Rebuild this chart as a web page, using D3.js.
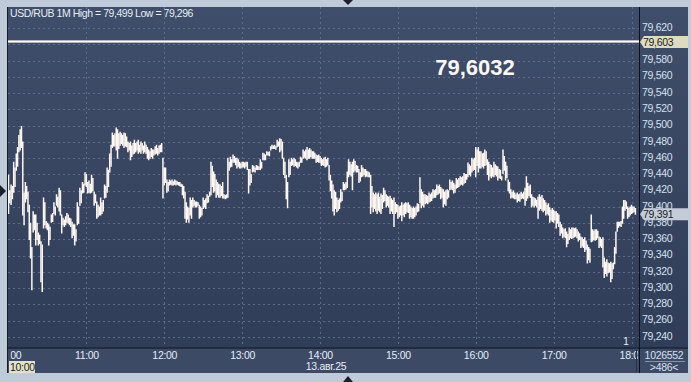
<!DOCTYPE html>
<html>
<head>
<meta charset="utf-8">
<script src="https://cdn.jsdelivr.net/npm/d3@7"></script>
<style>
  body { margin: 0; background: #bfcbd9; }
  svg { display: block; font-family: "Liberation Sans", Arial, sans-serif; }
</style>
</head>
<body>
<div id="chart"></div>
<script>
// USD/RUB, 1 minute bars, 13 Aug 2025 (values = thousandths above 79)
var barHigh = [439,420,427,425,455,448,465,473,488,495,499,480,417,430,425,418,402,380,350,394,
  390,390,380,368,365,357,353,411,405,382,380,378,375,390,392,405,400,415,412,423,
  420,390,386,384,388,392,390,386,385,381,378,378,372,405,400,423,420,430,428,442,
  440,430,432,428,439,435,418,415,406,402,400,411,405,408,427,425,448,445,465,476,
  491,488,490,497,495,490,492,490,488,491,490,486,480,478,480,475,478,482,478,480,
  482,476,480,478,475,480,476,473,470,468,472,470,470,474,476,472,475,476,478,460,
  448,448,433,430,433,432,433,431,433,432,431,430,430,428,427,425,418,405,400,398,
  411,408,411,408,406,406,405,402,400,398,411,408,410,415,413,418,455,450,443,440,
  433,430,428,427,425,430,415,414,415,460,455,461,458,464,462,460,460,458,455,453,
  455,455,454,455,455,446,446,440,451,450,448,451,450,449,458,455,466,465,464,468,
  467,468,474,476,475,476,474,482,480,484,483,480,460,455,439,430,458,455,460,458,
  460,458,455,454,455,461,460,470,468,470,473,470,472,470,468,468,466,464,463,464,
  462,460,458,460,461,458,460,451,439,432,427,420,418,411,408,410,421,418,430,428,
  430,443,458,455,452,455,458,456,451,450,446,442,451,448,446,446,444,443,442,439,
  425,417,415,417,415,417,412,416,414,423,420,415,413,412,413,410,408,411,405,403,
  402,400,401,405,402,404,405,404,405,402,400,398,400,398,400,404,403,436,421,418,
  415,415,414,413,417,415,417,421,420,421,427,425,427,424,422,421,418,420,421,420,
  433,430,432,429,427,435,433,435,437,436,437,441,440,440,454,452,450,460,458,460,
  473,470,473,468,468,465,466,470,468,458,455,452,451,448,455,452,450,449,446,445,
  437,470,462,455,450,433,430,421,418,420,417,415,417,415,416,418,416,418,423,437,
  429,425,427,415,412,411,410,408,412,415,412,414,410,408,405,402,404,399,396,398,
  396,394,394,392,390,381,378,374,372,373,369,366,374,372,374,374,373,374,372,369,
  367,363,362,360,362,358,353,350,348,390,372,370,372,372,370,363,362,360,362,337,
  332,335,331,330,332,330,331,350,369,381,381,381,382,400,408,408,406,400,398,400,
  402,400,400,398];
var barLow = [392,405,403,410,418,425,445,450,468,470,473,390,378,406,410,394,360,337,298,369,
  372,353,360,353,355,308,296,374,378,374,372,353,360,381,382,392,390,402,400,395,
  390,368,378,376,378,381,380,378,376,362,365,353,358,378,380,402,405,417,418,427,
  425,417,418,417,418,420,402,405,386,388,390,390,392,395,411,412,418,425,443,450,
  473,475,475,470,460,472,476,478,476,473,475,474,468,470,458,462,465,466,468,470,
  466,468,466,470,466,468,466,460,458,460,462,460,464,465,466,464,466,468,468,411,
  427,430,418,420,427,428,427,427,428,427,428,427,426,425,415,411,386,381,385,381,
  390,386,400,402,400,400,402,386,388,390,398,400,398,405,406,413,415,425,418,420,
  412,415,412,412,414,411,411,410,411,412,445,449,450,455,455,452,448,450,448,448,
  449,449,448,450,446,417,427,430,443,444,443,446,446,446,446,448,458,458,458,464,
  464,463,470,472,472,472,471,474,475,468,470,460,440,436,410,399,437,440,451,452,
  450,451,449,448,450,455,455,460,461,460,458,460,460,462,460,460,460,455,456,455,
  455,451,452,451,449,450,452,433,420,411,395,390,398,394,396,398,406,408,421,421,
  422,424,437,440,438,421,443,445,443,443,430,432,437,438,440,437,438,437,437,392,
  400,394,398,395,392,396,394,392,398,406,408,400,402,400,392,395,392,376,392,394,
  386,388,390,383,390,388,392,394,393,386,388,386,386,388,390,394,395,405,399,402,
  400,404,405,404,406,407,408,411,412,412,415,416,417,410,412,400,404,402,410,412,
  421,422,421,417,418,423,424,425,427,428,427,429,430,434,437,440,438,443,445,446,
  437,451,443,448,448,450,448,451,452,440,433,438,436,438,437,440,438,433,436,435,
  433,441,445,433,436,420,417,411,412,411,410,410,406,408,407,410,411,410,402,408,
  411,414,412,400,402,400,402,400,386,396,398,396,394,396,390,392,390,381,384,382,
  381,384,374,380,376,365,368,362,364,362,351,355,360,362,361,362,363,364,362,358,
  360,350,352,350,345,348,331,335,332,357,358,360,359,360,362,350,352,350,326,313,
  318,315,319,320,308,312,324,330,343,370,375,377,376,380,386,396,398,386,388,390,
  392,393,394,391];

var priceTicks = [79.24, 79.26, 79.28, 79.30, 79.32, 79.34, 79.36, 79.38, 79.40, 79.42,
  79.44, 79.46, 79.48, 79.50, 79.52, 79.54, 79.56, 79.58, 79.60, 79.62];
var hourTicks = [10, 11, 12, 13, 14, 15, 16, 17, 18];
var title = "USD/RUB 1M High = 79,499 Low = 79,296";
var refLevel = 79.603;      // horizontal level line
var refText = "79,6032";
var lastPrice = 79.391;
var dateLabel = "13.авг.25";
var startLabel = "10:00";
var volumeText = "1026552";
var countText = ">486<";

var width = 691, height = 382;
var plot = { left: 8, right: 639, top: 7, bottom: 347.5 };

var ru = d3.formatLocale({ decimal: ",", thousands: " ", grouping: [3], currency: ["", ""] });
var fmt3 = ru.format(".3f");

var svg = d3.select("#chart").append("svg")
    .attr("width", width)
    .attr("height", height);

var defs = svg.append("defs");
var grad = defs.append("linearGradient").attr("id", "bg").attr("x1", 0).attr("y1", 0).attr("x2", 0).attr("y2", 1);
grad.append("stop").attr("offset", "0%").attr("stop-color", "#3f4e6a");
grad.append("stop").attr("offset", "100%").attr("stop-color", "#2f3c58");

defs.append("clipPath").attr("id", "plotclip")
    .append("rect")
    .attr("x", plot.left).attr("y", plot.top)
    .attr("width", plot.right - plot.left).attr("height", plot.bottom - plot.top);
defs.append("clipPath").attr("id", "xclip")
    .append("rect")
    .attr("x", plot.left + 2.5).attr("y", plot.bottom)
    .attr("width", plot.right - plot.left - 3.5).attr("height", 30);

// panels
svg.append("rect")
    .attr("x", 7).attr("y", 7).attr("width", 681).attr("height", 366)
    .attr("fill", "url(#bg)");
svg.append("rect")
    .attr("x", 7).attr("y", plot.bottom).attr("width", 681).attr("height", 373 - plot.bottom)
    .attr("fill", "#3c4a66");

// scales
var xScale = d3.scaleTime()
    .domain([new Date(2025, 7, 13, 10, 0), new Date(2025, 7, 13, 18, 0)])
    .range([8.5, 631.5]);

var yScale = d3.scaleLinear()
    .domain([79.227, 79.646])
    .range([plot.bottom, plot.top]);

var bars = barHigh.map(function (h, i) {
    return { t: new Date(2025, 7, 13, 10, i), high: 79 + h / 1000, low: 79 + barLow[i] / 1000 };
});

// grid
var grid = svg.append("g").attr("clip-path", "url(#plotclip)");
grid.selectAll("line.h")
    .data(priceTicks)
    .enter()
    .append("line")
    .attr("class", "h")
    .attr("x1", plot.left).attr("x2", plot.right)
    .attr("y1", function (d) { return Math.round(yScale(d)) + 0.5; })
    .attr("y2", function (d) { return Math.round(yScale(d)) + 0.5; })
    .attr("stroke", "#5d6d89")
    .attr("stroke-dasharray", "2,3");
grid.selectAll("line.v")
    .data(hourTicks.slice(1))
    .enter()
    .append("line")
    .attr("class", "v")
    .attr("x1", function (d) { return Math.round(xScale(new Date(2025, 7, 13, d))) + 0.5; })
    .attr("x2", function (d) { return Math.round(xScale(new Date(2025, 7, 13, d))) + 0.5; })
    .attr("y1", plot.top).attr("y2", plot.bottom)
    .attr("stroke", "#5d6d89")
    .attr("stroke-dasharray", "2,3");

// level line
var lvl = Math.round(yScale(refLevel)) - 0.5;
svg.append("line")
    .attr("x1", plot.left).attr("x2", plot.right)
    .attr("y1", lvl).attr("y2", lvl)
    .attr("stroke", "#b8b8b8").attr("stroke-width", 3);
svg.append("line")
    .attr("x1", plot.left).attr("x2", plot.right)
    .attr("y1", lvl).attr("y2", lvl)
    .attr("stroke", "#ffffff").attr("stroke-width", 1.2);

// bars
svg.append("g")
    .attr("clip-path", "url(#plotclip)")
    .selectAll("line")
    .data(bars)
    .enter()
    .append("line")
    .attr("x1", function (d) { return xScale(d.t); })
    .attr("x2", function (d) { return xScale(d.t); })
    .attr("y1", function (d) { return yScale(d.high) - 0.5; })
    .attr("y2", function (d) { return yScale(d.low) + 0.5; })
    .attr("stroke", "#fff7f2")
    .attr("stroke-width", 1.5);

// title and big value
svg.append("text")
    .attr("x", 10).attr("y", 17)
    .attr("font-size", 10.5)
    .attr("letter-spacing", -0.45)
    .attr("fill", "#e6edf5")
    .text(title);
svg.append("text")
    .attr("x", 475).attr("y", 75)
    .attr("text-anchor", "middle")
    .attr("font-size", 22)
    .attr("font-weight", "bold")
    .attr("fill", "#fff8f2")
    .text(refText);
svg.append("text")
    .attr("x", 626).attr("y", 345)
    .attr("text-anchor", "middle")
    .attr("font-size", 10)
    .attr("fill", "#e6edf5")
    .text("1");

// right axis
var yAxis = svg.append("g")
    .attr("transform", "translate(" + plot.right + ",0)")
    .call(d3.axisRight(yScale).tickValues(priceTicks).tickSize(0).tickPadding(3)
        .tickFormat(function (d) { return fmt3(d); }));
yAxis.select(".domain").remove();
yAxis.selectAll("text")
    .attr("font-size", 10.5)
    .attr("letter-spacing", -0.3)
    .attr("font-family", "Liberation Sans, Arial, sans-serif")
    .attr("fill", "#d6e0ec")
    .attr("dy", "0.2em");

// bottom axis (outer group clips, inner group is shifted)
var xAxisClip = svg.append("g").attr("clip-path", "url(#xclip)");
var xAxis = xAxisClip.append("g")
    .attr("transform", "translate(0," + plot.bottom + ")")
    .call(d3.axisBottom(xScale)
        .tickValues(hourTicks.map(function (h) { return new Date(2025, 7, 13, h); }))
        .tickSize(0).tickPadding(4)
        .tickFormat(d3.timeFormat("%H:%M")));
xAxis.select(".domain").remove();
xAxis.selectAll("text")
    .attr("font-size", 10.5)
    .attr("letter-spacing", -0.3)
    .attr("font-family", "Liberation Sans, Arial, sans-serif")
    .attr("fill", "#e6edf5");

svg.append("text")
    .attr("x", 326).attr("y", 370)
    .attr("text-anchor", "middle")
    .attr("font-size", 10.5)
    .attr("letter-spacing", -0.3)
    .attr("fill", "#e6edf5")
    .text(dateLabel);

// start time highlight
svg.append("rect")
    .attr("x", 9).attr("y", 361).attr("width", 26).attr("height", 12)
    .attr("fill", "#e4e2c6");
svg.append("text")
    .attr("x", 10).attr("y", 371)
    .attr("font-size", 10.5)
    .attr("letter-spacing", -0.3)
    .attr("fill", "#1c1c1c")
    .text(startLabel);

// frame lines
svg.append("line")
    .attr("x1", 7.5).attr("x2", 7.5).attr("y1", 7).attr("y2", 373)
    .attr("stroke", "#161c28");
svg.append("line")
    .attr("x1", plot.right + 0.5).attr("x2", plot.right + 0.5).attr("y1", 7).attr("y2", 373)
    .attr("stroke", "#0c1018");
svg.append("line")
    .attr("x1", 7).attr("x2", 688).attr("y1", plot.bottom + 0.5).attr("y2", plot.bottom + 0.5)
    .attr("stroke", "#0c1018");
svg.append("line")
    .attr("x1", 636.5).attr("x2", 636.5).attr("y1", 340).attr("y2", 372)
    .attr("stroke", "#2a3347");

// price markers on the right axis
function marker(value, label, fill) {
    var y = yScale(value);
    svg.append("path")
        .attr("d", "M640," + y + "L644," + (y - 6) + "L688," + (y - 6) + "L688," + (y + 6) + "L644," + (y + 6) + "Z")
        .attr("fill", fill);
    svg.append("text")
        .attr("x", 643).attr("y", y + 4)
        .attr("font-size", 10.5)
        .attr("letter-spacing", -0.3)
        .attr("fill", "#1c1c1c")
        .text(label);
}
marker(refLevel, fmt3(refLevel), "#dedcbe");
marker(lastPrice, fmt3(lastPrice), "#c4ccd8");

// bottom-right counters
svg.append("text")
    .attr("x", 664).attr("y", 359)
    .attr("text-anchor", "middle")
    .attr("font-size", 10.5)
    .attr("letter-spacing", -0.3)
    .attr("fill", "#d6e0ec")
    .text(volumeText);
svg.append("line")
    .attr("x1", 645).attr("x2", 685).attr("y1", 361.5).attr("y2", 361.5)
    .attr("stroke", "#8796ad");
svg.append("text")
    .attr("x", 664).attr("y", 371)
    .attr("text-anchor", "middle")
    .attr("font-size", 10.5)
    .attr("letter-spacing", -0.3)
    .attr("fill", "#d6e0ec")
    .text(countText);

// scroll arrows on the outer frame
svg.append("path").attr("d", "M343,0L353,0L348,5Z").attr("fill", "#1a2030");
svg.append("path").attr("d", "M343,382L353,382L348,376Z").attr("fill", "#1a2030");
svg.append("path").attr("d", "M0,185L0,197L6,191Z").attr("fill", "#1a2030");
</script>
</body>
</html>
